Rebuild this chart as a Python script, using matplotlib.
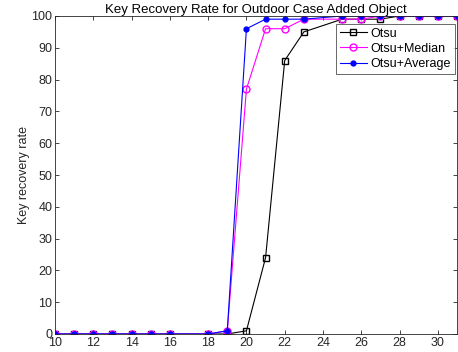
import matplotlib
matplotlib.use("Agg")
import matplotlib.pyplot as plt

x = [10, 11, 12, 13, 14, 15, 16, 18, 19, 20, 21, 22, 23, 25, 26, 27, 28, 29, 30, 31]
otsu = [0, 0, 0, 0, 0, 0, 0, 0, 0, 1, 24, 86, 95, 99, 99, 99, 100, 100, 100, 100]
otsu_median = [0, 0, 0, 0, 0, 0, 0, 0, 1, 77, 96, 96, 99, 99, 99, 100, 100, 100, 100, 100]
otsu_average = [0, 0, 0, 0, 0, 0, 0, 0, 1, 96, 99, 99, 99, 100, 100, 100, 100, 100, 100, 100]
xticks = [10, 12, 14, 16, 18, 20, 22, 24, 26, 28, 30]
yticks = [0, 10, 20, 30, 40, 50, 60, 70, 80, 90, 100]

plt.rcParams['font.family'] = ['Liberation Sans', 'DejaVu Sans']
fig = plt.figure(figsize=(4.58, 3.52), dpi=100)
ax = fig.add_axes([55/458, 18/352, 402/458, 318/352])

ax.plot(x, otsu, color='black', marker='s', markersize=4, markerfacecolor='none', lw=0.8, label='Otsu')
ax.plot(x, otsu_median, color='#ff00ff', marker='o', markersize=5, markerfacecolor='none', lw=0.8, label='Otsu+Median')
ax.plot(x, otsu_average, color='#0000ff', marker='.', markersize=7, lw=0.8, label='Otsu+Average')

ax.set_xlim(10, 31)
ax.set_ylim(0, 100)
ax.set_xticks(xticks)
ax.set_yticks(yticks)
gray = '#262626'
for s in ax.spines.values():
    s.set_color(gray)
    s.set_linewidth(0.6)
ax.tick_params(direction='in', top=True, right=True, length=3, width=0.6, colors=gray, labelsize=9, pad=2)
ax.set_ylabel('Key recovery rate', fontsize=9, color=gray, labelpad=1)
ax.set_title('Key Recovery Rate for Outdoor Case Added Object', fontsize=9.5, color='black', pad=2)

leg = ax.legend(loc='upper right', bbox_to_anchor=(0.995, 0.975), fontsize=9, frameon=True, fancybox=False,
                edgecolor=gray, handlelength=2.2, handletextpad=0.3, borderpad=0.3, labelspacing=0.25, borderaxespad=0)
leg.get_frame().set_linewidth(0.6)

fig.savefig('out.png', dpi=100)
